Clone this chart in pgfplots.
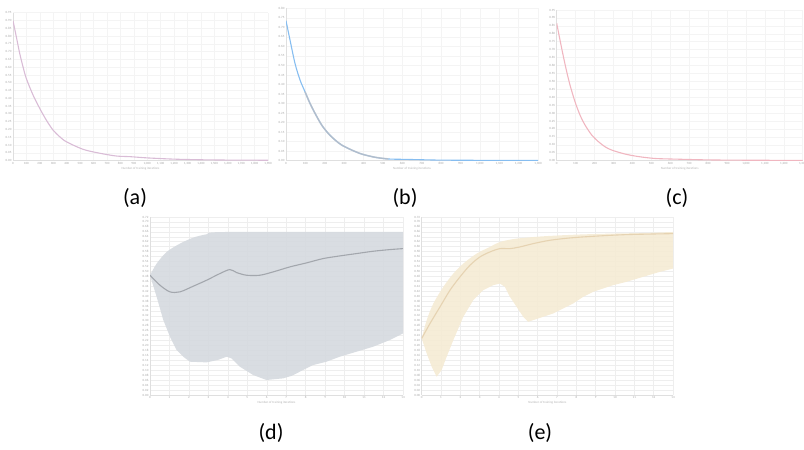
\documentclass[border=0pt]{standalone}
\usepackage{fontspec}
\setmainfont{Carlito}
\usepackage{pgfplots}
\pgfplotsset{compat=1.18}
\usepgfplotslibrary{fillbetween}
\definecolor{lineA}{HTML}{D9BCD6}
\definecolor{lineB}{HTML}{86BDF0}
\definecolor{greyB}{HTML}{B9BDC6}
\definecolor{lineC}{HTML}{F0B6C0}
\definecolor{bandD}{HTML}{D6DADF}
\definecolor{lineD}{HTML}{A3A7AD}
\definecolor{bandE}{HTML}{F5EBD5}
\definecolor{lineE}{HTML}{E6D3B2}
\pgfplotsset{
  sub/.style={
    scale only axis, anchor=south west,
    axis x line*=bottom, axis y line*=left,
    axis line style={draw=gray!25, line width=0.3pt},
    grid=major, major grid style={draw=gray!13, line width=0.25pt},
    tick style={draw=none},
    tick label style={font=\fontsize{1.6}{2}\selectfont, text=gray!70, inner sep=0.6pt},
    scaled ticks=false,
    xticklabel style={/pgf/number format/.cd, fixed, 1000 sep={,}, assume math mode=true},
    yticklabel style={/pgf/number format/.cd, fixed, fixed zerofill, precision=2, assume math mode=true},
    xlabel style={font=\fontsize{1.6}{2}\selectfont, text=gray!60, inner sep=0.5pt},
    xlabel={Number of training iterations},
    every axis plot/.append style={line width=0.55pt},
  },
  top/.style={major grid style={draw=gray!9, line width=0.25pt}},
}
\begin{document}
\begin{tikzpicture}
% (a)
\begin{axis}[sub, top, at={(6.5pt,144.65pt)}, width=127.5pt, height=74pt,
  xmin=0, xmax=1900, xtick distance=100, ymin=0, ymax=0.95, ytick distance=0.05]
\addplot[lineA, smooth] coordinates {(0,0.899) (24.6,0.796) (49.9,0.689) (74.5,0.603) (99.1,0.528) (149,0.422) (199,0.336) (248,0.261) (298,0.197) (348,0.154) (397,0.122) (522,0.073) (646,0.048) (770,0.030) (870,0.026) (1000,0.018) (1200,0.010) (1400,0.006) (1600,0.004) (1900,0.003)};
\end{axis}
% (b)
\begin{axis}[sub, top, at={(143pt,144.65pt)}, width=126pt, height=76.2pt,
  xmin=0, xmax=1300, xtick distance=100, ymin=0, ymax=0.8, ytick distance=0.05]
\addplot[lineB, smooth] coordinates {(0,0.735) (20.6,0.634) (46.4,0.511) (72.2,0.424) (98.0,0.362) (123.8,0.301) (149.6,0.249) (184.2,0.187) (218.2,0.143) (252.8,0.109) (287.4,0.082) (338.9,0.056) (390.5,0.035) (459.2,0.018) (527.8,0.009) (613.9,0.007) (700,0.005) (800,0.003) (1000,0.002) (1300,0.002)};
\addplot[greyB, opacity=0.8, line width=0.8pt, smooth] coordinates {(98.0,0.362) (123.8,0.301) (149.6,0.249) (184.2,0.187) (218.2,0.143) (252.8,0.109) (287.4,0.082) (338.9,0.056) (390.5,0.035) (459.2,0.018) (527.8,0.009)};
\end{axis}
% (c)
\begin{axis}[sub, top, at={(278.35pt,144.65pt)}, width=123pt, height=75.35pt,
  xmin=0, xmax=1300, xtick distance=100, ymin=0, ymax=0.95, ytick distance=0.05]
\addplot[lineC, smooth] coordinates {(0,0.866) (17.4,0.761) (35.4,0.656) (52.9,0.561) (70.3,0.477) (96.7,0.372) (123.1,0.288) (149.6,0.225) (185,0.162) (220.4,0.120) (255.3,0.088) (290.7,0.067) (361,0.042) (431.8,0.026) (519.5,0.014) (625.2,0.010) (800,0.005) (1000,0.003) (1300,0.002)};
\end{axis}
% (d)
\begin{axis}[sub, at={(75pt,27.5pt)}, width=126.5pt, height=89pt,
  xmin=0, xmax=13, xtick distance=1, ymin=0, ymax=0.72, ytick distance=0.02]
\addplot[name path=dU, draw=none, smooth] coordinates {(0,0.4845) (0.342,0.5316) (0.855,0.5787) (1.539,0.6123) (2.224,0.6366) (2.908,0.6500) (3.934,0.6594) (13,0.6594)};
\addplot[name path=dL, draw=none] coordinates {(0,0.4845) (0.342,0.397) (0.684,0.3028) (1.026,0.2355) (1.368,0.1817) (1.711,0.1548) (2.053,0.1346) (2.908,0.1319) (3.5,0.1420) (3.934,0.1548) (4.191,0.1480) (4.618,0.1144) (5.303,0.0807) (5.987,0.0606) (6.842,0.0673) (7.3,0.0780) (7.697,0.0942) (8.382,0.1211) (9.066,0.1346) (9.750,0.1548) (10.605,0.1750) (11.461,0.1951) (12.316,0.2221) (13,0.2490)};
\addplot[bandD, opacity=0.92] fill between[of=dU and dL];
\addplot[lineD, smooth] coordinates {(0,0.4845) (0.513,0.4441) (1.026,0.4172) (1.539,0.4172) (2.224,0.4401) (2.908,0.4643) (3.592,0.4912) (4.105,0.5074) (4.447,0.4953) (4.961,0.4845) (5.645,0.4845) (6.329,0.4979) (7.184,0.5181) (8.039,0.5343) (8.895,0.5518) (9.750,0.5625) (10.605,0.5720) (11.461,0.5814) (12.316,0.5881) (13,0.5921)};
\end{axis}
% (e)
\begin{axis}[sub, at={(210.85pt,27.5pt)}, width=125.65pt, height=89pt,
  xmin=0, xmax=13, xtick distance=1, ymin=0, ymax=0.72, ytick distance=0.02]
\addplot[name path=eU, draw=none, smooth] coordinates {(0,0.2288) (0.258,0.3028) (0.603,0.3701) (1.119,0.4374) (1.636,0.4912) (2.152,0.5316) (2.841,0.5720) (3.530,0.5989) (4.046,0.6191) (4.907,0.6325) (6.285,0.6419) (8.007,0.6487) (9.729,0.6527) (11.451,0.6554) (13,0.6594)};
\addplot[name path=eL, draw=none] coordinates {(0,0.2288) (0.258,0.1682) (0.517,0.1144) (0.775,0.0740) (1.033,0.1009) (1.291,0.1548) (1.636,0.2221) (2.152,0.3163) (2.669,0.3836) (3.186,0.4239) (3.702,0.4441) (4.046,0.4508) (4.305,0.4374) (4.563,0.3970) (4.907,0.3566) (5.252,0.3163) (5.510,0.2961) (5.768,0.3028) (6.285,0.3163) (6.801,0.3297) (7.318,0.3499) (7.834,0.3701) (8.351,0.3970) (8.868,0.4172) (9.384,0.4307) (9.901,0.4441) (10.590,0.4576) (11.451,0.4778) (12.311,0.4979) (13,0.5114)};
\addplot[bandE, opacity=0.92] fill between[of=eU and eL];
\addplot[lineE, smooth] coordinates {(0,0.2288) (0.430,0.2893) (0.947,0.3566) (1.464,0.4239) (1.980,0.4778) (2.497,0.5249) (3.013,0.5585) (3.530,0.5787) (4.046,0.5921) (4.563,0.5921) (5.080,0.5989) (5.768,0.6123) (6.629,0.6258) (7.662,0.6352) (8.868,0.6419) (10.590,0.6487) (13,0.6527)};
\end{axis}
\begin{scope}[every node/.style={font=\fontsize{11}{13}\selectfont, inner sep=0pt}]
\node at (67.5pt,126pt) {(a)};
\node at (202.5pt,126pt) {(b)};
\node at (338.5pt,126pt) {(c)};
\node at (135.5pt,8.5pt) {(d)};
\node at (270pt,8.5pt) {(e)};
\end{scope}
\pgfresetboundingbox
\useasboundingbox (0,0) rectangle (402pt,225pt);
\end{tikzpicture}
\end{document}
